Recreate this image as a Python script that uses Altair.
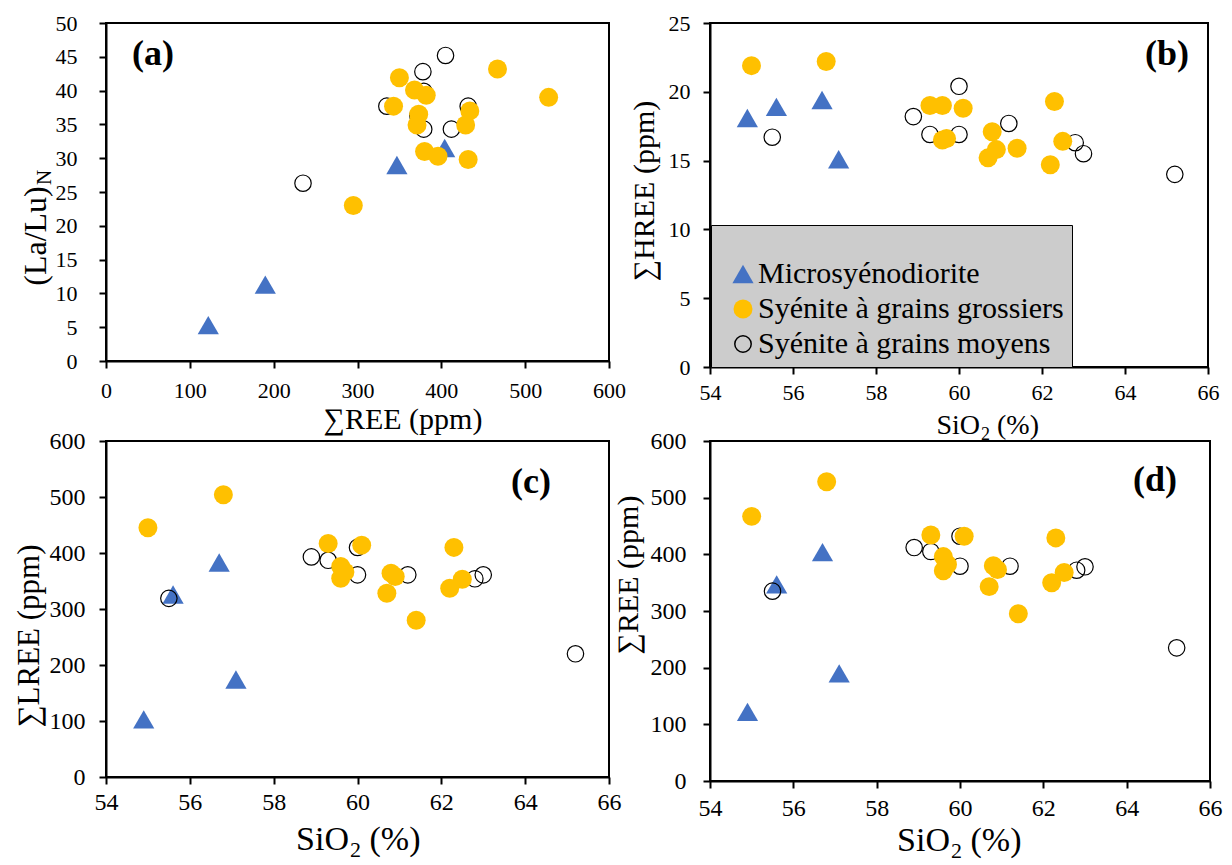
import altair as alt
import pandas as pd

FONT = "Liberation Serif"
TYPES = ["Microsyénodiorite", "Syénite à grains grossiers", "Syénite à grains moyens"]

# Microsyénodiorite
micro_sio2 = [54.9, 55.6, 56.7, 57.1]
micro_hree = [18.1, 18.9, 19.4, 15.1]
micro_lree = [103, 326, 383, 174]
micro_ree = [122, 347, 404, 190]
micro_lalu = [5.3, 29.0, 31.5, 11.3]

# Syénite à grains grossiers
coarse_sio2 = [55.0, 56.8, 59.3, 60.1, 62.3, 59.6, 59.7, 59.6, 60.8, 60.9, 60.7, 61.4, 62.5, 62.2]
coarse_hree = [21.9, 22.2, 19.0, 18.8, 19.3, 19.0, 16.6, 16.5, 17.1, 15.8, 15.2, 15.9, 16.4, 14.7]
coarse_lree = [445, 504, 417, 414, 410, 376, 366, 355, 364, 358, 328, 280, 353, 337]
coarse_ree = [467, 528, 434, 432, 429, 396, 382, 371, 380, 373, 343, 295, 368, 350]
coarse_lalu = [43.2, 39.0, 37.0, 29.8, 34.9, 30.3, 39.3, 34.9, 31.0, 36.5, 37.7, 23.0, 40.1, 41.9]

# Syénite à grains moyens
medium_sio2 = [58.9, 59.3, 60.0, 60.0, 61.2, 55.5, 62.8, 63.0, 65.2]
medium_hree = [18.2, 16.9, 20.4, 16.9, 17.7, 16.7, 16.3, 15.5, 14.0]
medium_lree = [393, 387, 410, 361, 361, 319, 354, 361, 220]
medium_ree = [412, 405, 432, 379, 379, 335, 372, 378, 235]
medium_lalu = [34.3, 45.2, 37.7, 39.9, 34.3, 37.7, 36.3, 42.8, 26.3]

SHAPES = ["triangle-up", "circle", "circle"]
FILLS = ["#4472C4", "#FFC000", "transparent"]
STROKES = ["transparent", "transparent", "#000000"]
SIZES = [450, 270, 250]


def group(kind, sio2, hree, lree, ree, lalu):
    return pd.DataFrame({"type": kind, "sio2": sio2, "hree": hree,
                         "lree": lree, "ree": ree, "lalu": lalu})


# drawing order: triangles, open circles, then filled circles on top
df = pd.concat([
    group(TYPES[0], micro_sio2, micro_hree, micro_lree, micro_ree, micro_lalu),
    group(TYPES[2], medium_sio2, medium_hree, medium_lree, medium_ree, medium_lalu),
    group(TYPES[1], coarse_sio2, coarse_hree, coarse_lree, coarse_ree, coarse_lalu),
], ignore_index=True)


def axis(values, fs, pad):
    return alt.Axis(values=values, title=None, grid=False, labelFont=FONT,
                    labelFontSize=fs, labelColor="black", labelPadding=pad,
                    labelFlush=False, labelOverlap=False, tickSize=7,
                    tickWidth=2, tickColor="black", domainColor="black",
                    domainWidth=2)


def points(xf, yf, xdom, xvals, ydom, yvals, fs, xpad, ypad, legend=None):
    def sc(rng):
        return alt.Scale(domain=TYPES, range=rng)
    return alt.Chart(df).mark_point(opacity=1, strokeWidth=1.2).encode(
        x=alt.X(f"{xf}:Q", scale=alt.Scale(domain=xdom, nice=False, zero=False),
                axis=axis(xvals, fs, xpad)),
        y=alt.Y(f"{yf}:Q", scale=alt.Scale(domain=ydom, nice=False, zero=False),
                axis=axis(yvals, fs, ypad)),
        shape=alt.Shape("type:N", scale=sc(SHAPES), legend=legend),
        fill=alt.Fill("type:N", scale=sc(FILLS), legend=legend),
        stroke=alt.Stroke("type:N", scale=sc(STROKES), legend=legend),
        size=alt.Size("type:N", scale=sc(SIZES), legend=legend),
    )


def txt(s, x, y, size, angle=0, align="center", baseline="middle", bold=False):
    return alt.Chart(pd.DataFrame({"t": [s]})).mark_text(
        font=FONT, fontSize=size, angle=angle, align=align, baseline=baseline,
        fontWeight="bold" if bold else "normal", color="black",
    ).encode(text="t:N", x=alt.value(x), y=alt.value(y))


def sio2_title(x_end, base, fs):
    sub = round(fs * 0.65)
    return [
        txt("SiO", x_end, base, fs, align="right", baseline="alphabetic"),
        txt("2", x_end + 1, base + fs * 0.22, sub, align="left", baseline="alphabetic"),
        txt("(%)", x_end + 1 + sub * 0.5 + fs * 0.25, base, fs, align="left",
            baseline="alphabetic"),
    ]


SIO2_TICKS = list(range(54, 67, 2))

legend_b = alt.Legend(
    orient="none", legendX=1, legendY=202, title=" ", titleFontSize=20,
    titleFont=FONT, titlePadding=6, padding=8, fillColor="#CCCCCC",
    strokeColor="black", labelFont=FONT, labelFontSize=30, labelColor="black",
    labelLimit=500, labelOffset=0, symbolOffset=9, rowPadding=5,
)

panel_a = alt.layer(
    points("ree", "lalu", [0, 600], list(range(0, 601, 100)), [0, 50],
           list(range(0, 51, 5)), 22, 12, 22),
    txt("(a)", 47, 31, 36, bold=True),
    txt("∑REE (ppm)", 297, 397, 30),
    txt("(La/Lu)", -70, 213, 32, angle=270),
    txt("N", -61, 162, 21, angle=270, align="left"),
).properties(width=503, height=338)

panel_b = alt.layer(
    points("sio2", "hree", [54, 66], SIO2_TICKS, [0, 25], list(range(0, 26, 5)),
           22, 8, 13, legend=legend_b),
    txt("(b)", 457, 31, 36, bold=True),
    txt("∑HREE (ppm)", -65, 168, 30, angle=270),
    *sio2_title(270, 411, 28),
).properties(width=498, height=344)

panel_c = alt.layer(
    points("sio2", "lree", [54, 66], SIO2_TICKS, [0, 600], list(range(0, 601, 100)),
           24, 6, 14),
    txt("(c)", 425, 41, 36, bold=True),
    txt("∑LREE (ppm)", -76, 195, 31, angle=270),
    *sio2_title(243, 409, 34),
).properties(width=503, height=336)

panel_d = alt.layer(
    points("sio2", "ree", [54, 66], SIO2_TICKS, [0, 600], list(range(0, 601, 100)),
           24, 8, 17),
    txt("(d)", 445, 39, 36, bold=True),
    txt("∑REE (ppm)", -81, 134, 30, angle=270),
    *sio2_title(240, 410, 34),
).properties(width=500, height=340)

chart = alt.concat(
    panel_a, panel_b, panel_c, panel_d,
    columns=2, spacing={"row": 74, "column": 101}, bounds="flush", align="none",
).resolve_scale(
    shape="independent", fill="independent", stroke="independent", size="independent"
).configure(
    font=FONT
).configure_axis(
    labelFont=FONT
).configure_legend(
    labelFont=FONT, titleFont=FONT
).configure_view(
    stroke="black", strokeWidth=2
).properties(
    padding={"left": 13, "top": 11, "right": 5, "bottom": 0}, background="white"
)

chart.save("out.html", embed_options={"renderer": "svg", "actions": False})
